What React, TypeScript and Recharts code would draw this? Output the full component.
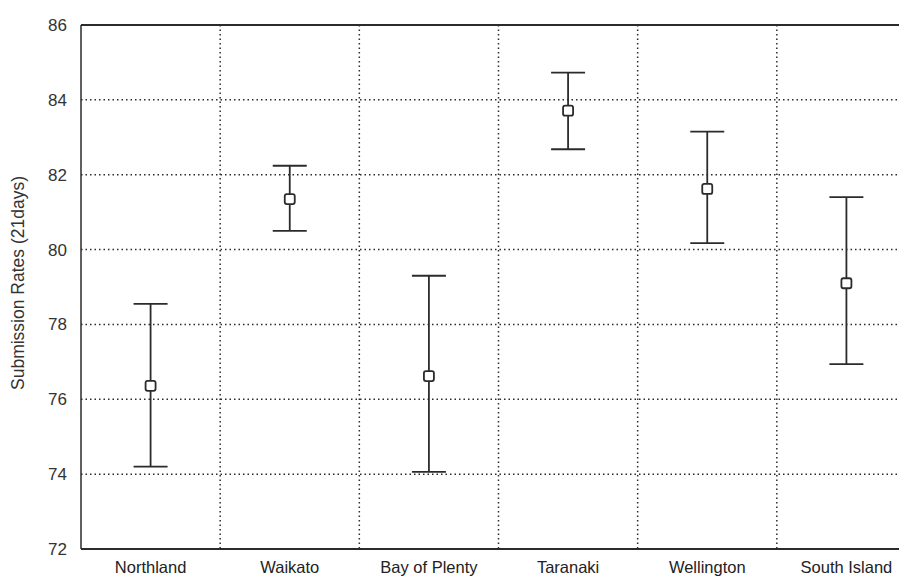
import React from "react"
import {
  ComposedChart,
  Line,
  ErrorBar,
  XAxis,
  YAxis,
  CartesianGrid,
  ReferenceLine,
} from "recharts"

const regions = [
  "Northland",
  "Waikato",
  "Bay of Plenty",
  "Taranaki",
  "Wellington",
  "South Island",
]
const means = [76.36, 81.35, 76.62, 83.71, 81.62, 79.1]
const lower = [74.2, 80.5, 74.06, 82.68, 80.17, 76.94]
const upper = [78.55, 82.24, 79.3, 84.73, 83.15, 81.4]
const yTicks = [72, 74, 76, 78, 80, 82, 84, 86]

const data = regions.map((region, i) => ({
  region,
  mean: means[i],
  err: [means[i] - lower[i], upper[i] - means[i]],
}))

const INK = "#2b2b2b"
const FONT = "'Liberation Sans', Arial, sans-serif"

/** Cuadradito blanco para la media. */
function SquareDot(props: any) {
  const { cx, cy } = props
  if (cx == null || cy == null) return null
  return (
    <rect
      x={cx - 5}
      y={cy - 5}
      width={10}
      height={10}
      rx={2}
      fill="#fff"
      stroke={INK}
      strokeWidth={1.8}
    />
  )
}

function YLabel({ viewBox }: any) {
  const x = viewBox.x - 8
  const y = viewBox.y + viewBox.height / 2 - 4
  return (
    <text
      x={x}
      y={y}
      transform={`rotate(-90, ${x}, ${y})`}
      textAnchor="middle"
      dominantBaseline="central"
      fontSize={17.5}
      fontFamily={FONT}
      fill="#333"
    >
      Submission Rates (21days)
    </text>
  )
}

export default function App() {
  return (
    <div style={{ width: 899, height: 571, overflow: "hidden" }}>
      <ComposedChart
        width={940}
        height={571}
        data={data}
        margin={{ top: 17, right: 32, left: 18, bottom: 0 }}
      >
        <CartesianGrid
          stroke={INK}
          strokeWidth={1.5}
          strokeDasharray="1.5 3"
          verticalCoordinatesGenerator={({ offset }: any) =>
            [1, 2, 3, 4, 5].map(
              (i) => offset.left + (i * offset.width) / regions.length
            )
          }
        />
        <XAxis
          dataKey="region"
          scale="band"
          interval={0}
          tickLine={false}
          tickSize={0}
          tickMargin={12}
          height={30}
          axisLine={{ stroke: INK, strokeWidth: 2 }}
          tick={{ fontSize: 16.5, fill: "#222", fontFamily: FONT }}
        />
        <YAxis
          domain={[72, 86]}
          ticks={yTicks}
          interval={0}
          width={55}
          tickLine={false}
          tickSize={0}
          tickMargin={14}
          axisLine={{ stroke: INK, strokeWidth: 1.5 }}
          tick={{ fontSize: 17, fill: "#333", fontFamily: FONT }}
          label={{ content: <YLabel /> }}
        />
        <ReferenceLine y={86} stroke={INK} strokeWidth={2} />
        <Line
          dataKey="mean"
          stroke="none"
          dot={<SquareDot />}
          activeDot={false}
          isAnimationActive={false}
        >
          <ErrorBar
            dataKey="err"
            width={17}
            stroke={INK}
            strokeWidth={1.8}
            direction="y"
          />
        </Line>
      </ComposedChart>
    </div>
  )
}
